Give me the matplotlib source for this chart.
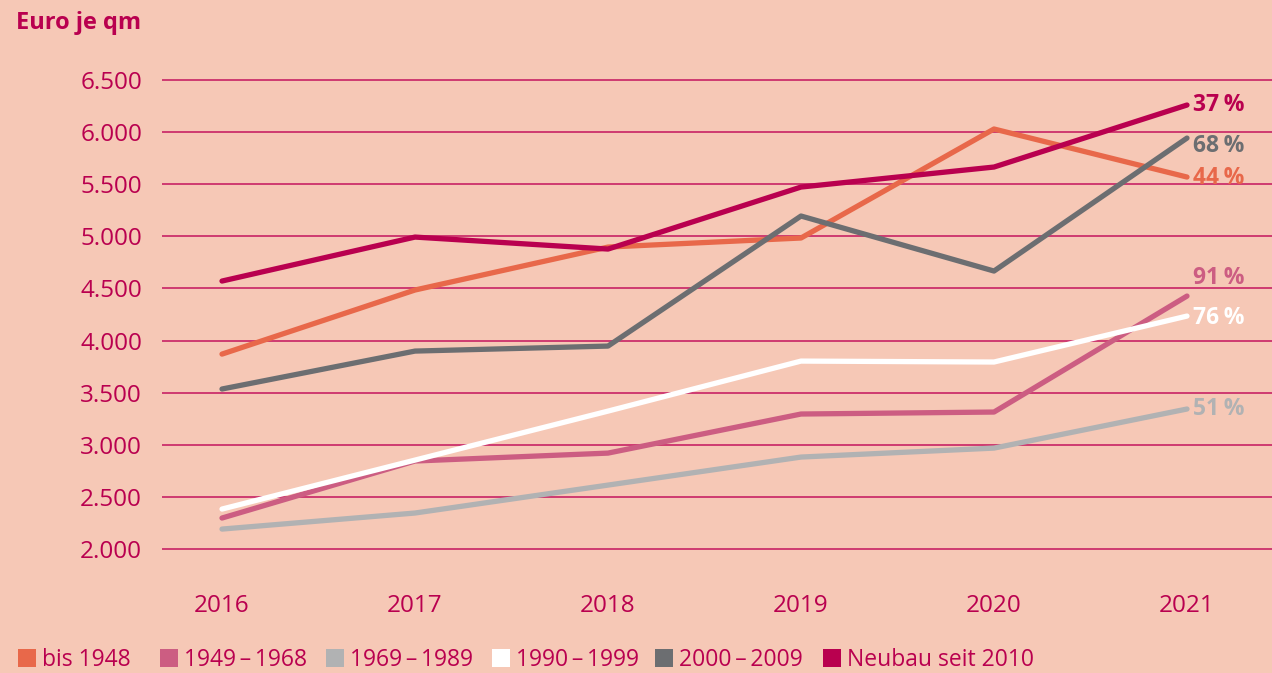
import matplotlib
matplotlib.use("Agg")
import matplotlib.pyplot as plt
from matplotlib.patches import Rectangle

plt.rcParams['font.family'] = ['Open Sans', 'DejaVu Sans']

years = [2016, 2017, 2018, 2019, 2020, 2021]
series_names = ["bis 1948", "1949\u2009\u2013\u20091968", "1969\u2009\u2013\u20091989",
                "1990\u2009\u2013\u20091999", "2000\u2009\u2013\u20092009", "Neubau seit 2010"]
bis1948 = [3870, 4485, 4897, 4984, 6030, 5569]
s1949_1968 = [2297, 2844, 2920, 3295, 3314, 4427]
s1969_1989 = [2191, 2345, 2613, 2882, 2968, 3343]
s1990_1999 = [2383, 2853, 3323, 3803, 3794, 4235]
s2000_2009 = [3535, 3899, 3947, 5195, 4667, 5943]
neubau = [4571, 4993, 4878, 5473, 5665, 6260]
pct_labels = ["44\u2009%", "91\u2009%", "51\u2009%", "76\u2009%", "68\u2009%", "37\u2009%"]
y_ticks = [2000, 2500, 3000, 3500, 4000, 4500, 5000, 5500, 6000, 6500]
y_ticklabels = ["2.000", "2.500", "3.000", "3.500", "4.000", "4.500", "5.000", "5.500", "6.000", "6.500"]

colors = ["#E8684A", "#CC5D82", "#B1B2B3", "#FFFFFF", "#6C6E71", "#B9004F"]
bg = "#F6C8B6"
crimson = "#B9004F"

W, H = 1272, 673
fig = plt.figure(figsize=(W / 100, H / 100), dpi=100, facecolor=bg)
ax = fig.add_axes([162 / W, (H - 559.4) / H, 1110 / W, (559.4 - 69.6) / H], facecolor=bg)
ax.set_xlim(2016 - 60 / 193, 2021 + 85 / 193)
ax.set_ylim(1900, 6600)

for s in ax.spines.values():
    s.set_visible(False)

for t in y_ticks:
    ax.axhline(t, color="#C4155E", lw=1.1, zorder=1)

all_series = [bis1948, s1949_1968, s1969_1989, s1990_1999, s2000_2009, neubau]
for vals, c in zip(all_series, colors):
    ax.plot(years, vals, color=c, lw=3.8, solid_capstyle='round', solid_joinstyle='round', zorder=3)

# vertical label offsets in points (layout only)
label_dy = [-1, 13, 0, -1.5, -6, 0]
for vals, c, lab, dy in zip(all_series, colors, pct_labels, label_dy):
    ax.annotate(lab, (years[-1], vals[-1]), xytext=(4, dy), textcoords='offset points',
                color=c, fontsize=16.5, fontweight='bold', va='center', ha='left',
                annotation_clip=False)

ax.set_yticks(y_ticks)
ax.set_yticklabels(y_ticklabels)
ax.set_xticks(years)
ax.set_xticklabels([str(y) for y in years])
ax.tick_params(axis='y', length=0, pad=14.4, labelsize=17.5, labelcolor=crimson)
ax.tick_params(axis='x', length=0, pad=25, labelsize=17.5, labelcolor=crimson)

fig.text(16 / W, 1 - 23 / H, "Euro je qm", color=crimson, fontsize=17, fontweight='bold',
         ha='left', va='center')

# legend
leg_sq_x = [18, 160, 326, 492, 655, 823]
for x0, c, name in zip(leg_sq_x, colors, series_names):
    fig.patches.append(Rectangle((x0 / W, 1 - 667 / H), 18 / W, 18 / H, transform=fig.transFigure,
                                 facecolor=c, edgecolor='none'))
    fig.text((x0 + 24) / W, 1 - 666 / H, name, color=crimson, fontsize=16.5, ha='left', va='baseline')

fig.savefig("out.png", dpi=100, facecolor=bg)
